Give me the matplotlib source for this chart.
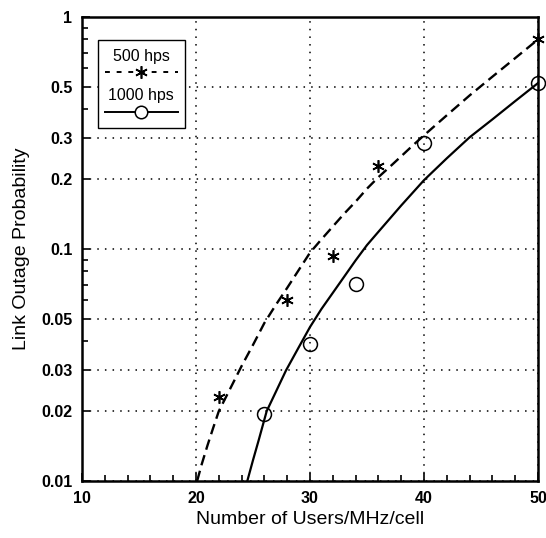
import matplotlib
matplotlib.use("Agg")
import matplotlib.pyplot as plt
from matplotlib.ticker import FixedLocator, NullFormatter, MultipleLocator, LogLocator
from matplotlib.patches import Rectangle

plt.rcParams["font.family"] = ["Liberation Sans", "DejaVu Sans"]

# 500 hops/s: simulated points and analytic curve
sim500_x = [22, 28, 32, 36, 50]
sim500_y = [0.023, 0.060, 0.093, 0.228, 0.80]
curve500_x = [20.1, 20.5, 21.0, 21.5, 22.0, 23.0, 24.0, 25.0, 26.0, 27.0, 28.0,
              29.0, 30.0, 31.0, 32.0, 33.0, 34.0, 35.0, 36.0, 37.0, 38.0, 39.0,
              40.0, 42.0, 44.0, 46.0, 48.0, 50.0]
curve500_y = [0.0100, 0.0118, 0.0142, 0.0169, 0.0200, 0.0250, 0.0313, 0.0386,
              0.0480, 0.0574, 0.0680, 0.0810, 0.0964, 0.110, 0.125, 0.142,
              0.160, 0.182, 0.204, 0.226, 0.251, 0.279, 0.309, 0.377, 0.459,
              0.553, 0.665, 0.800]

# 1000 hops/s
sim1000_x = [26, 30, 34, 40, 50]
sim1000_y = [0.0195, 0.039, 0.0705, 0.285, 0.52]
curve1000_x = [24.5, 25.0, 25.5, 26.2, 27.0, 27.9, 29.0, 30.0, 31.0, 32.0, 33.0,
               34.0, 35.0, 36.0, 38.0, 40.0, 42.0, 44.0, 46.0, 48.0, 50.0]
curve1000_y = [0.0100, 0.0123, 0.0150, 0.0200, 0.0242, 0.0300, 0.0376, 0.0461,
               0.0551, 0.0647, 0.0760, 0.0893, 0.104, 0.1186, 0.154, 0.198,
               0.246, 0.303, 0.362, 0.434, 0.519]

yticks = [0.01, 0.02, 0.03, 0.05, 0.1, 0.2, 0.3, 0.5, 1]
ytick_labels = ["0.01", "0.02", "0.03", "0.05", "0.1", "0.2", "0.3", "0.5", "1"]
xticks = [10, 20, 30, 40, 50]

fig = plt.figure(figsize=(5.46, 5.38), dpi=100)
ax = fig.add_axes([82 / 546, 1 - 481 / 538, 456 / 546, 464 / 538])

ax.set_yscale("log")
ax.set_xlim(10, 50)
ax.set_ylim(0.01, 1)

ax.plot(curve500_x, curve500_y, color="black", lw=1.7, ls=(0, (4.5, 2.4)), zorder=3)
ax.plot(curve1000_x, curve1000_y, color="black", lw=1.6, zorder=3)
ax.plot(sim500_x, sim500_y, ls="none", marker=(6, 2, 0), ms=9, mew=1.2,
        color="black", zorder=4, clip_on=False)
ax.plot(sim1000_x, sim1000_y, ls="none", marker="o", ms=10, mew=1.1,
        mfc="none", mec="black", zorder=4, clip_on=False)

ax.yaxis.set_major_locator(FixedLocator(yticks))
ax.set_yticklabels(ytick_labels)
ax.yaxis.set_minor_locator(LogLocator(base=10, subs=(0.4, 0.6, 0.7, 0.8, 0.9)))
ax.yaxis.set_minor_formatter(NullFormatter())
ax.set_xticks(xticks)
ax.xaxis.set_minor_locator(MultipleLocator(2))

ax.grid(True, which="major", color="black", ls=(0, (1, 4)), lw=1.1)

for s in ax.spines.values():
    s.set_linewidth(1.8)
ax.tick_params(which="both", direction="in", top=False, right=False,
               width=1.2, labelsize=11.5)
ax.tick_params(which="major", length=6, pad=7)
ax.tick_params(which="minor", length=4)
for lab in ax.get_xticklabels() + ax.get_yticklabels():
    lab.set_fontweight("bold")

ax.set_xlabel("Number of Users/MHz/cell", fontsize=14, labelpad=4)
ax.set_ylabel("Link Outage Probability", fontsize=14, labelpad=8)

# legend box: label above each line sample, drawn in axes coordinates
tr = ax.transAxes
ax.add_patch(Rectangle((0.035, 0.76), 0.19, 0.19, transform=tr, fill=True,
                       facecolor="white", edgecolor="black", lw=1.0, zorder=5))
ax.text(0.13, 0.915, "500 hps", transform=tr, ha="center", va="center",
        fontsize=11.5, zorder=6)
ax.plot([0.05, 0.21], [0.882, 0.882], transform=tr, color="black", lw=1.4,
        ls=(0, (2.5, 3.5)), zorder=6)
ax.plot([0.13], [0.882], transform=tr, marker=(6, 2, 0), ms=9, mew=1.2,
        color="black", zorder=6)
ax.text(0.13, 0.83, "1000 hps", transform=tr, ha="center", va="center",
        fontsize=11.5, zorder=6)
ax.plot([0.05, 0.21], [0.795, 0.795], transform=tr, color="black", lw=1.4,
        zorder=6)
ax.plot([0.13], [0.795], transform=tr, marker="o", ms=9, mew=1.1,
        mfc="white", mec="black", zorder=6)

fig.savefig("out.png", dpi=100)
